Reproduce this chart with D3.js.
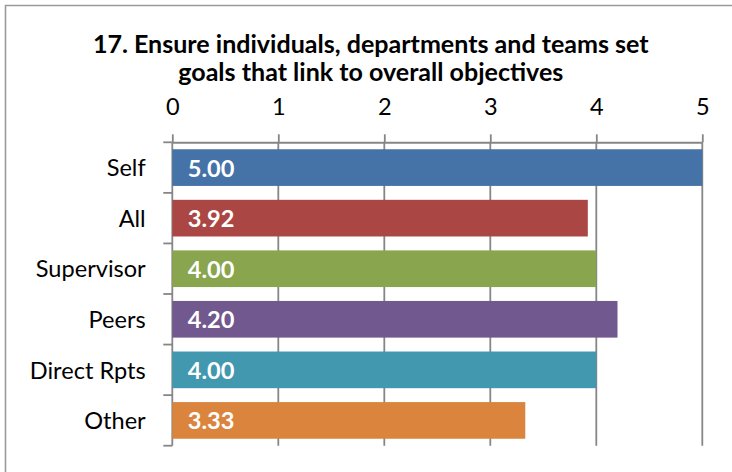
<!DOCTYPE html>
<html>
<head>
<meta charset="utf-8">
<script src="https://cdn.jsdelivr.net/npm/d3@7"></script>
<style>
  html, body { margin: 0; padding: 0; background: #fff; }
  svg { display: block; }
  text { font-family: Lato, "Open Sans", "Liberation Sans", sans-serif; }
</style>
</head>
<body>
<svg id="chart" width="732" height="472"></svg>
<script>
// Rating scores by respondent group
const categories = ["Self", "All", "Supervisor", "Peers", "Direct Rpts", "Other"];
const values = [5.00, 3.92, 4.00, 4.20, 4.00, 3.33];
const barColors = ["#4572A7", "#AA4643", "#89A54E", "#71588F", "#4198AF", "#DB843D"];
const tickValues = [0, 1, 2, 3, 4, 5];
const titleLines = [
  "17. Ensure individuals, departments and teams set",
  "goals that link to overall objectives"
];

const svg = d3.select("#chart");
const gridColor = "#868686";

// outer chart frame
svg.append("path")
  .attr("d", "M5.5,472 V5.5 H732")
  .attr("fill", "none")
  .attr("stroke", "#9a9a9a")
  .attr("stroke-width", 1.6);

const x = d3.scaleLinear().domain([0, 5]).range([172.3, 702.3]);
const y = d3.scaleBand().domain(categories).range([142.3, 445.7])
  .paddingInner(0.275).paddingOuter(0.1375);

// scale a font so a sample string spans a given width
function fitSize(sample, weight, targetWidth) {
  const t = svg.append("text").attr("font-size", 20).attr("font-weight", weight).text(sample);
  const w = t.node().getComputedTextLength();
  t.remove();
  return 20 * targetWidth / w;
}
const titleSize = fitSize(titleLines[0], "bold", 556);
const labelSize = fitSize("Direct Rpts", "normal", 116);
const valueSize = fitSize("5.00", "bold", 46.7);

// title
svg.append("g").selectAll("text").data(titleLines).join("text")
  .attr("x", 370.8)
  .attr("y", (d, i) => 53 + i * 28)
  .attr("text-anchor", "middle")
  .attr("font-weight", "bold")
  .attr("font-size", titleSize)
  .attr("fill", "#000")
  .text(d => d);

// vertical gridlines
svg.append("g").selectAll("line").data(tickValues).join("line")
  .attr("x1", d => x(d)).attr("x2", d => x(d))
  .attr("y1", y.range()[0]).attr("y2", y.range()[1])
  .attr("stroke", gridColor).attr("stroke-width", 1.8);

// top value axis
const xAxis = svg.append("g")
  .attr("transform", `translate(0,${y.range()[0]})`)
  .call(d3.axisTop(x).tickValues(tickValues).tickFormat(d3.format("d")).tickSize(8).tickSizeOuter(0).tickPadding(19));
xAxis.select(".domain").attr("stroke", gridColor).attr("stroke-width", 2);
xAxis.selectAll(".tick line").attr("stroke", gridColor).attr("stroke-width", 1.8);
xAxis.selectAll(".tick text")
  .attr("font-size", labelSize)
  .attr("font-family", "Lato, 'Open Sans', sans-serif")
  .attr("fill", "#000");

// category axis: line and tick marks between categories
const boundaries = d3.range(categories.length + 1).map(i => y.range()[0] + i * y.step());
svg.append("g").selectAll("line").data(boundaries).join("line")
  .attr("x1", x(0) - 9).attr("x2", x(0))
  .attr("y1", d => d).attr("y2", d => d)
  .attr("stroke", gridColor).attr("stroke-width", 1.8);

// bars
svg.append("g").selectAll("rect").data(categories).join("rect")
  .attr("x", x(0))
  .attr("y", d => y(d))
  .attr("width", (d, i) => x(values[i]) - x(0))
  .attr("height", y.bandwidth())
  .attr("fill", (d, i) => barColors[i]);

// value labels inside bars
svg.append("g").selectAll("text").data(categories).join("text")
  .attr("x", x(0) + 15.5)
  .attr("y", d => y(d) + y.bandwidth() / 2)
  .attr("dy", "0.38em")
  .attr("font-weight", "bold")
  .attr("font-size", valueSize)
  .attr("fill", "#fff")
  .text((d, i) => values[i].toFixed(2));

// category labels
svg.append("g").selectAll("text").data(categories).join("text")
  .attr("x", 145.7)
  .attr("y", d => y(d) + y.bandwidth() / 2)
  .attr("dy", "0.37em")
  .attr("text-anchor", "end")
  .attr("font-size", labelSize)
  .attr("fill", "#000")
  .text(d => d);
</script>
</body>
</html>
